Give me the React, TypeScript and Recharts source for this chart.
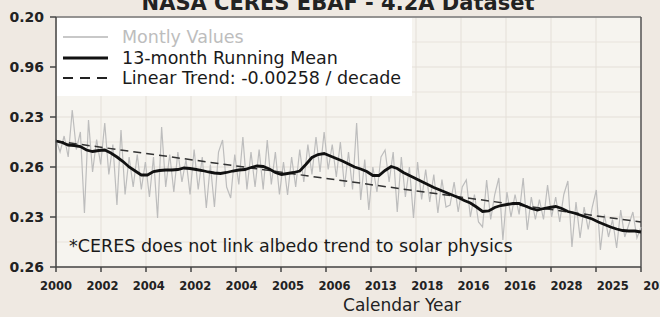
import { LineChart, Line, XAxis, YAxis, CartesianGrid, ReferenceLine } from "recharts";

// tick labels, as printed on the original
const xLabels = ["2000", "2002", "2004", "2002", "2004", "2005", "2006", "2013", "2018", "2016", "2016", "2028", "2025", "2024"];
const yLabels = ["0.26", "0.23", "0.26", "0.23", "0.96", "0.20"];
const yTicks = [0, 1, 2, 3, 4, 5];
const yMinor = [0.5, 1.5, 2.5, 3.5, 4.5];

// months from Jan 2000 (0) to 2024 (288)
const MONTHS = 288;

// monthly values, one every 2 months
const monthlyValues = [
  2.55, 2.3, 2.62, 2.2, 3.14, 2.35, 2.7, 1.08, 2.94, 1.9, 2.55, 2.05, 2.88, 1.85, 2.45, 1.24, 2.74, 1.45, 2.2, 1.6,
  2.25, 1.55, 2.1, 1.4, 2.2, 0.98, 2.8, 1.6, 2.25, 1.5, 2.3, 1.7, 2.15, 1.45, 2.35, 1.55, 2.2, 1.18, 2.05, 1.2,
  2.3, 2.54, 1.6, 1.38, 2.25, 1.65, 2.6, 1.55, 2.3, 1.6, 2.35, 1.55, 2.54, 1.65, 2.3, 1.45, 2.1, 1.44, 2.2, 1.6,
  2.35, 1.7, 2.45, 1.85, 2.6, 1.9, 2.7, 1.95, 2.45, 1.8, 2.5, 1.6, 2.3, 1.55, 2.88, 1.34, 2.15, 1.14, 2.0, 1.5,
  2.2, 2.34, 1.7, 2.3, 1.1, 2.2, 1.4, 2.0, 0.98, 2.1, 1.35, 1.95, 1.3, 1.85, 1.08, 1.75, 1.2, 1.24, 1.7, 1.1,
  1.6, 1.74, 1.0, 1.45, 0.9, 0.8, 1.74, 0.95, 1.45, 1.78, 0.54, 1.5, 1.0, 1.45, 1.05, 1.78, 0.74, 1.4, 0.95, 1.35,
  0.95, 1.64, 1.0, 1.4, 0.9, 1.45, 1.72, 0.4, 1.3, 0.58, 1.2, 0.75, 1.2, 1.54, 0.34, 1.05, 0.6, 0.95, 0.38, 1.14,
  0.6, 0.85, 1.1, 0.58, 0.8,
];

// 13-month running mean, one every 3 months
const meanValues = [
  2.52, 2.49, 2.44, 2.43, 2.41, 2.34, 2.31, 2.33, 2.34, 2.28, 2.2, 2.11, 2.0, 1.92, 1.84, 1.84, 1.91, 1.93, 1.94, 1.94,
  1.95, 1.98, 1.97, 1.95, 1.93, 1.9, 1.88, 1.87, 1.89, 1.92, 1.94, 1.95, 1.99, 2.02, 2.01, 1.96, 1.89, 1.85, 1.87, 1.89,
  1.92, 2.05, 2.19, 2.25, 2.27, 2.22, 2.17, 2.12, 2.06, 2.0, 1.96, 1.91, 1.83, 1.83, 1.93, 2.01, 1.97, 1.89, 1.83, 1.77,
  1.71, 1.65, 1.59, 1.54, 1.49, 1.44, 1.39, 1.33, 1.28, 1.2, 1.11, 1.12, 1.19, 1.23, 1.25, 1.27, 1.27, 1.22, 1.17, 1.14,
  1.17, 1.19, 1.21, 1.17, 1.11, 1.08, 1.04, 1.0, 0.96, 0.9, 0.85, 0.8, 0.76, 0.73, 0.72, 0.72, 0.7,
];

// linear trend end points
const trendValues = [2.52, 0.9];

const monthly = monthlyValues.map((v, i) => ({ m: i * 2, v }));
const mean = meanValues.map((v, i) => ({ m: i * 3, v }));
const trend = trendValues.map((v, i) => ({ m: i * MONTHS, v }));
const xTicks = xLabels.map((_, i) => (i * MONTHS) / (xLabels.length - 1));

const SANS = "'DejaVu Sans', sans-serif";

const YearTick = (props: any) => {
  const { x, y, payload } = props;
  const i = Math.round((payload.value * (xLabels.length - 1)) / MONTHS);
  return (
    <text
      x={x + i * 1.4}
      y={y}
      dy="0.71em"
      textAnchor="middle"
      fontFamily={SANS}
      fontSize={11.5}
      fontWeight="bold"
      fill="#222"
    >
      {xLabels[i]}
    </text>
  );
};

export default function App() {
  return (
    <div style={{ position: "absolute", left: 0, top: 0, width: 660, height: 317, background: "#efe9e2", overflow: "hidden" }}>
      <LineChart width={660} height={317} margin={{ top: 17, right: 19, bottom: 0, left: 0 }}>
        <CartesianGrid fill="#f6f4ef" stroke="#e4dfd8" />
        {yMinor.map((v) => (
          <ReferenceLine key={v} y={v} stroke="#e8e3dc" />
        ))}
        <XAxis
          dataKey="m"
          type="number"
          domain={[0, MONTHS]}
          ticks={xTicks}
          interval={0}
          height={50}
          tickSize={5}
          tickMargin={10}
          tick={<YearTick />}
          stroke="#444"
          strokeWidth={1.5}
        />
        <YAxis
          type="number"
          domain={[0, 5]}
          ticks={yTicks}
          interval={0}
          width={56}
          tickSize={6}
          tickMargin={6}
          tickFormatter={(v: number) => yLabels[v]}
          tick={{ fontFamily: SANS, fontSize: 14, fontWeight: "bold", fill: "#222" }}
          stroke="#444"
          strokeWidth={1.5}
        />
        <ReferenceLine y={5} stroke="#777" strokeWidth={1.5} />
        <ReferenceLine x={MONTHS} stroke="#555" strokeWidth={1.5} />
        <Line data={monthly} dataKey="v" stroke="#bdbdbd" strokeWidth={1.2} dot={false} isAnimationActive={false} />
        <Line data={trend} dataKey="v" stroke="#333" strokeWidth={1.5} strokeDasharray="8 5" dot={false} isAnimationActive={false} />
        <Line data={mean} dataKey="v" stroke="#111" strokeWidth={2.8} dot={false} isAnimationActive={false} />
      </LineChart>
      <svg width={660} height={317} style={{ position: "absolute", left: 0, top: 0, pointerEvents: "none" }}>
        <text x={338} y={10} textAnchor="middle" fontFamily={SANS} fontSize={21} fontWeight="bold" fill="#222">
          NASA CERES EBAF - 4.2A Dataset
        </text>
        <rect x={57} y={18} width={355} height={78} fill="#ffffff" />
        <line x1={63} x2={108} y1={37} y2={37} stroke="#c8c8c8" strokeWidth={2} />
        <text x={122} y={43} fontFamily={SANS} fontSize={17.5} fill="#bdbdbd">Montly Values</text>
        <line x1={63} x2={108} y1={58} y2={58} stroke="#111" strokeWidth={3} />
        <text x={122} y={64} fontFamily={SANS} fontSize={17.5} fill="#1a1a1a">13-month Running Mean</text>
        <line x1={63} x2={108} y1={78} y2={78} stroke="#222" strokeWidth={1.8} strokeDasharray="10 7" />
        <text x={122} y={84} fontFamily={SANS} fontSize={17.5} fill="#1a1a1a">Linear Trend: -0.00258 / decade</text>
        <text x={69} y={252} fontFamily={SANS} fontSize={17.5} fill="#1a1a1a">*CERES does not link albedo trend to solar physics</text>
        <text x={402} y={311} textAnchor="middle" fontFamily={SANS} fontSize={17} fill="#222">Calendar Year</text>
      </svg>
    </div>
  );
}
